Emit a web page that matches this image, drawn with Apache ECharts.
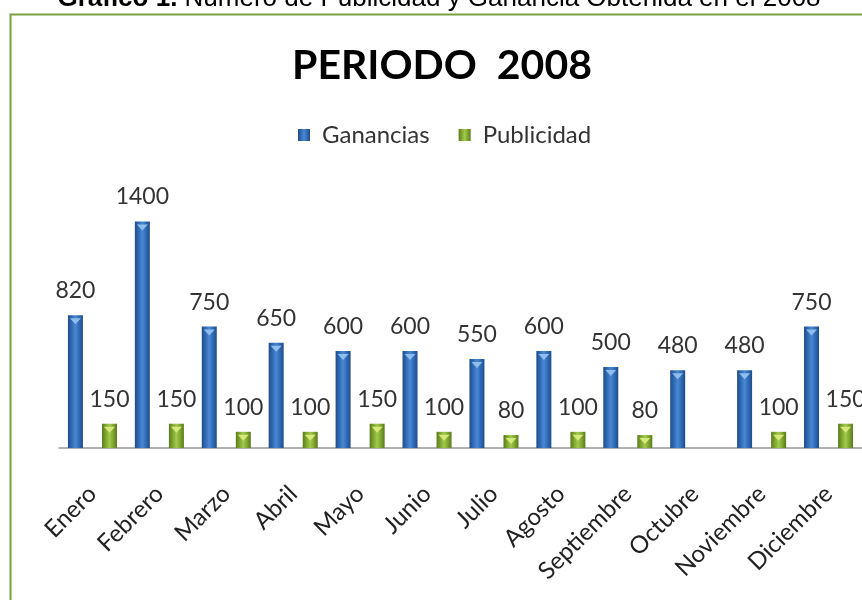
<!DOCTYPE html>
<html>
<head>
<meta charset="utf-8">
<script src="https://cdn.jsdelivr.net/npm/echarts@6/dist/echarts.min.js"></script>
<style>
  html, body { margin: 0; padding: 0; background: #fff; }
  #chart { width: 862px; height: 600px; }
</style>
</head>
<body>
<div id="chart"></div>
<script>
// datos
const meses = ['Enero', 'Febrero', 'Marzo', 'Abril', 'Mayo', 'Junio', 'Julio',
    'Agosto', 'Septiembre', 'Octubre', 'Noviembre', 'Diciembre'];
const ganancias = [820, 1400, 750, 650, 600, 600, 550, 600, 500, 480, 480, 750];
const publicidad = [150, 150, 100, 100, 150, 100, 80, 100, 80, null, 100, 150];

const fuente = 'Lato, "Open Sans", sans-serif';

// degradado tipo cilindro
function cilindro(borde, medio, centro) {
    return new echarts.graphic.LinearGradient(0, 0, 1, 0, [
        { offset: 0, color: borde },
        { offset: 0.3, color: medio },
        { offset: 0.5, color: centro },
        { offset: 0.7, color: medio },
        { offset: 1, color: borde }
    ]);
}

// triangulo claro en la parte superior de cada barra
function bisel(nombre, datos, color) {
    return {
        name: nombre + '-bisel',
        type: 'pictorialBar',
        data: datos,
        barWidth: 15,
        barGap: '127%',
        symbol: 'triangle',
        symbolRotate: 180,
        symbolSize: [11, 6],
        symbolPosition: 'end',
        symbolOffset: [0, 3],
        itemStyle: { color: color },
        z: 5,
        silent: true
    };
}

const chart = echarts.init(document.getElementById('chart'));

const etiqueta = {
    show: true,
    position: 'top',
    distance: 13,
    fontFamily: fuente,
    fontSize: 23,
    color: '#333'
};

chart.setOption({
    animation: false,
    graphic: [
        {
            type: 'rect',
            left: 8, top: 12,
            shape: { width: 900, height: 700 },
            style: { fill: 'none', stroke: '#7E9F3E', lineWidth: 2 }
        },
        {
            type: 'text',
            x: 439, y: -1,
            style: {
                text: '{b|Grafico 1.} Número de Publicidad y Ganancia Obtenida en el 2008',
                font: '26px "Liberation Sans", Arial, sans-serif',
                fill: '#000',
                align: 'center',
                verticalAlign: 'middle',
                rich: {
                    b: { fontWeight: 'bold', fontSize: 26, fontFamily: '"Liberation Sans", Arial, sans-serif' }
                }
            }
        }
    ],
    title: {
        text: 'PERIODO  2008',
        left: 287,
        top: 40,
        textStyle: { fontFamily: fuente, fontWeight: 'bold', fontSize: 41, color: '#000' }
    },
    legend: {
        top: 118,
        left: 293,
        itemWidth: 12,
        itemHeight: 12,
        itemGap: 29,
        icon: 'rect',
        textStyle: { fontFamily: fuente, fontSize: 24, color: '#333', padding: [0, 0, 0, 7] },
        data: ['Ganancias', 'Publicidad']
    },
    grid: { left: 59, right: -5, top: 189, bottom: 152 },
    xAxis: {
        type: 'category',
        data: meses,
        axisLine: { lineStyle: { color: '#999', width: 1.5 } },
        axisTick: { show: false },
        axisLabel: {
            rotate: 45,
            margin: 42,
            fontFamily: fuente,
            fontSize: 24,
            color: '#222'
        }
    },
    yAxis: {
        type: 'value',
        min: 0,
        max: 1600,
        show: false,
        splitLine: { show: false }
    },
    series: [
        {
            name: 'Ganancias',
            type: 'bar',
            data: ganancias,
            barWidth: 15,
            barGap: '127%',
            itemStyle: { color: cilindro('#1E4C8A', '#3470BB', '#4B88D2') },
            label: etiqueta
        },
        {
            name: 'Publicidad',
            type: 'bar',
            data: publicidad,
            barWidth: 15,
            itemStyle: { color: cilindro('#5A7A1C', '#86AE34', '#A3C84E') },
            label: etiqueta
        },
        bisel('Ganancias', ganancias, '#8FBDEE'),
        bisel('Publicidad', publicidad, '#D3EA7A')
    ]
});
</script>
</body>
</html>
